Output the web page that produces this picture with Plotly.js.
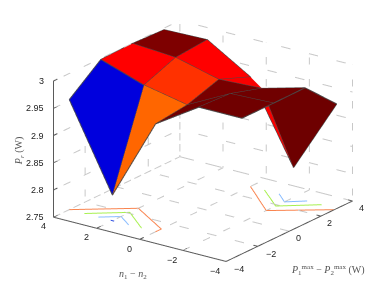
<!DOCTYPE html>
<html><head><meta charset="utf-8">
<script src="https://cdn.plot.ly/plotly-3.0.1.min.js"></script>
<style>html,body{margin:0;padding:0;background:#fff}#c{width:390px;height:294px}</style>
</head><body><div id="c"></div>
<script>
const powerDiff = [-3,-1,1,3];
const nDiff = [-4,-2,0,2,4];
const zRows = [
 [2.999,2.999,2.9995,2.942],
 [2.999,2.996,2.978,2.805],
 [2.948,2.955,2.974,2.951],
 [2.797,2.971,2.994,2.999],
 [2.952,2.998,2.9995,2.997]
];
const pTicks = [-4,-2,0,2,4];
const nTicks = [-4,-2,0,2,4];
const zTicks = [2.75,2.8,2.85,2.9,2.95,3];
const zTickLabels = ['2.75','2.8','2.85','2.9','2.95','3'];
const contourOrange = [[[-3,4],[-1.36,2],[-2.64,0],[-3,0]],[[3,0],[1.27,-2],[2.85,-4]]];
const contourGreen = [[[-3,3.3],[-1.9,2],[-3,0.65]],[[3,-0.65],[1.87,-2],[3,-3.3]]];
const contourBlue = [[[-3,2.65],[-2.45,2],[-3,1.25]],[[3,-1.33],[2.42,-2],[3,-2.63]]];
const contourDeep = [[[-3,2.08],[-3,1.92]]];
const colors = {orange:'#f98550',green:'#a8f050',blue:'#88bcff',deep:'#3050e0',edge:'#4a4a4a',grid:'#c8c8c8',axis:'#5a5a5a'};
const zMin=2.75, zMax=3, pMin=-4, pMax=4, nMin=-4, nMax=4;

const vx=[],vy=[],vz=[],ti=[],tj=[],tk=[],cell=[];
const nP=powerDiff.length;
nDiff.forEach((n,r)=>powerDiff.forEach((p,c)=>{vx.push(p);vy.push(n);vz.push(zRows[r][c]);}));
for(let r=0;r<nDiff.length-1;r++)for(let c=0;c<nP-1;c++){
  const a=r*nP+c,b=a+1,d=a+nP,e=d+1;
  ti.push(a,a);tj.push(b,e);tk.push(e,d);
  cell.push(zRows[r][c],zRows[r][c]);
}
const surf={type:'mesh3d',x:vx,y:vy,z:vz,i:ti,j:tj,k:tk,intensity:cell,intensitymode:'cell',
 cmin:2.797,cmax:3,showscale:false,flatshading:true,hoverinfo:'skip',
 colorscale:[[0,'#0000dd'],[.125,'#0000ff'],[.375,'#00ffff'],[.5,'#80ff80'],[.625,'#ffff00'],[.744,'#ff6600'],[.778,'#ff3300'],[.857,'#ff0000'],[.89,'#ff0000'],[.97,'#800000'],[1,'#6e0000']],
 lighting:{ambient:1,diffuse:0,specular:0,roughness:1,fresnel:0}};

function lineTrace(segs,color,width,dash){
  const x=[],y=[],z=[];
  segs.forEach(s=>{s.forEach(q=>{x.push(q[0]);y.push(q[1]);z.push(q[2]);});x.push(null);y.push(null);z.push(null);});
  return {type:'scatter3d',mode:'lines',x,y,z,connectgaps:false,hoverinfo:'skip',showlegend:false,line:{color,width,dash:dash||'solid'}};
}
const edges=[];
nDiff.forEach((n,r)=>edges.push(powerDiff.map((p,c)=>[p,n,zRows[r][c]])));
powerDiff.forEach((p,c)=>edges.push(nDiff.map((n,r)=>[p,n,zRows[r][c]])));

const grid=[];
pTicks.forEach(p=>{grid.push([[p,nMin,zMin],[p,nMax,zMin]]);grid.push([[p,nMax,zMin],[p,nMax,zMax]]);});
nTicks.forEach(n=>{grid.push([[pMin,n,zMin],[pMax,n,zMin]]);grid.push([[pMax,n,zMin],[pMax,n,zMax]]);});
zTicks.forEach(z=>{grid.push([[pMin,nMax,z],[pMax,nMax,z]]);grid.push([[pMax,nMin,z],[pMax,nMax,z]]);});

const axisSegs=[[[pMin,nMax,zMin],[pMin,nMax,zMax]],[[pMin,nMin,zMin],[pMin,nMax,zMin]],[[pMin,nMin,zMin],[pMax,nMin,zMin]]];
zTicks.forEach(z=>axisSegs.push([[pMin,nMax,z],[pMin+0.25,nMax,z]]));
nTicks.forEach(n=>axisSegs.push([[pMin,n,zMin],[pMin+0.25,n,zMin]]));
pTicks.forEach(p=>axisSegs.push([[p,nMin,zMin],[p,nMin+0.2,zMin]]));

const onFloor=l=>l.map(s=>s.map(q=>[q[0],q[1],zMin]));
const data=[surf,
 lineTrace(edges,colors.edge,2),
 lineTrace(grid,colors.grid,2,'dot'),
 lineTrace(axisSegs,colors.axis,2),
 lineTrace(onFloor(contourOrange),colors.orange,2),
 lineTrace(onFloor(contourGreen),colors.green,2),
 lineTrace(onFloor(contourBlue),colors.blue,2),
 lineTrace(onFloor(contourDeep),colors.deep,2)];

const tickFont={family:'Liberation Sans',size:9,color:'#222'};
const titleFont={family:'Liberation Serif',size:10,color:'#555'};
const fmt=v=>v<0?'\u2212'+Math.abs(v):String(v);
const ann=[];
const add=(x,y,z,text,xshift,yshift,font,extra)=>ann.push(Object.assign({x,y,z,text,xshift,yshift,font,showarrow:false},extra||{}));
zTicks.forEach((z,i)=>add(pMin,nMax,z,zTickLabels[i],-7,0,tickFont,{xanchor:'right'}));
nTicks.forEach(n=>add(pMin,n,zMin,fmt(n),n<0?-11:-10,-9,tickFont));
pTicks.forEach(p=>add(p,nMin,zMin,fmt(p),p<0?13:9,-7,tickFont));
add(pMin,0,zMin,'<i>n</i><sub>1</sub> \u2212 <i>n</i><sub>2</sub>',-7,-35,titleFont);
add(0,nMin,zMin,'<i>P</i><sub>1</sub><sup>max</sup> \u2212 <i>P</i><sub>2</sub><sup>max</sup> (W)',39,-39,titleFont);
add(pMin,nMax,2.875,'<i>P<sub>r</sub></i> (W)',-34,-1.5,titleFont,{textangle:-90});

const ax={showgrid:false,zeroline:false,showline:false,showticklabels:false,ticks:'',showbackground:false,showspikes:false,title:{text:''}};
const eyeLen=1.9;
const pad=0.02, zPad=0.0006;
const layout={width:390,height:294,margin:{l:0,r:0,t:0,b:0},paper_bgcolor:'#fff',showlegend:false,
 scene:{domain:{x:[0.041,1],y:[0.04,1]},aspectmode:'manual',aspectratio:{x:1.525,y:1.525,z:1.036},
  xaxis:Object.assign({},ax,{range:[pMin-pad,pMax+pad]}),
  yaxis:Object.assign({},ax,{range:[nMin-pad,nMax+pad]}),
  zaxis:Object.assign({},ax,{range:[zMin-zPad,zMax+zPad]}),
  camera:{projection:{type:'orthographic'},center:{x:0,y:0,z:0},up:{x:0,y:0,z:1},
   eye:{x:-0.755*eyeLen,y:-0.553*eyeLen,z:0.35*eyeLen}},
  annotations:ann}};
Plotly.newPlot('c',data,layout,{displayModeBar:false});
</script></body></html>
